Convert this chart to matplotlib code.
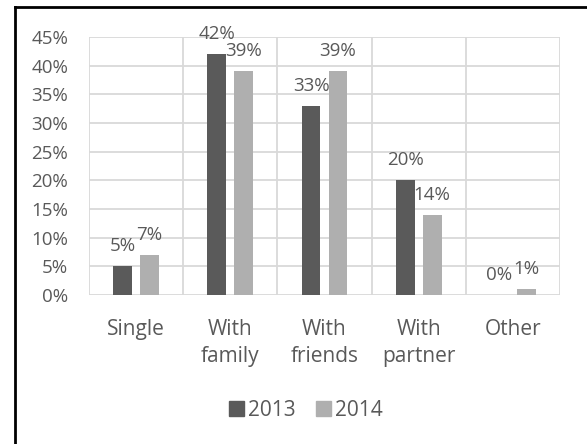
import matplotlib.pyplot as plt
from matplotlib.lines import Line2D
import numpy as np

# data
categories = ['Single', 'With\nfamily', 'With\nfriends', 'With\npartner', 'Other']
y2013 = [5, 42, 33, 20, 0]
y2014 = [7, 39, 39, 14, 1]
yticks = [0, 5, 10, 15, 20, 25, 30, 35, 40, 45]

dark = '#5a5a5a'
light = '#afafaf'
text_col = '#595959'
plt.rcParams['font.family'] = ['Open Sans', 'DejaVu Sans']

W, H = 587, 444
fig = plt.figure(figsize=(W / 100, H / 100), dpi=100)
ax = fig.add_axes([89 / W, 1 - 295 / H, (560 - 89) / W, (295 - 37) / H])

x = np.arange(len(categories))
bw = 0.2
off = 0.143
b1 = ax.bar(x - off, y2013, bw, color=dark, zorder=3)
b2 = ax.bar(x + off, y2014, bw, color=light, zorder=3)

for bars, vals in ((b1, y2013), (b2, y2014)):
    for b, v in zip(bars, vals):
        ax.annotate(f'{v}%', (b.get_x() + b.get_width() / 2, v),
                    xytext=(0, 8), textcoords='offset points',
                    ha='center', va='bottom', fontsize=13.5, color=text_col)

ax.set_xlim(-0.5, len(categories) - 0.5)
ax.set_ylim(0, 45)
ax.set_yticks(yticks)
ax.set_yticklabels([f'{t}%' for t in yticks], fontsize=13.5, color=text_col)
ax.set_xticks(x)
ax.set_xticklabels(categories, fontsize=15, color=text_col, linespacing=1.4)
ax.tick_params(length=0, axis='y', pad=15)
ax.tick_params(length=0, axis='x', pad=17)

# horizontal grid + vertical separators between categories
ax.yaxis.grid(True, color='#d9d9d9', lw=1.3, zorder=0)
for b in np.arange(-0.5, len(categories), 1.0):
    ax.axvline(b, color='#d9d9d9', lw=1.3, zorder=0)
for s in ax.spines.values():
    s.set_visible(False)

handles = [plt.Rectangle((0, 0), 1, 1, color=dark), plt.Rectangle((0, 0), 1, 1, color=light)]
fig.legend(handles, ['2013', '2014'], loc='center', bbox_to_anchor=(306 / W, 1 - 410 / H),
           ncol=2, frameon=False, fontsize=15, labelcolor=text_col,
           handlelength=0.7, handleheight=0.7, handletextpad=0.2, columnspacing=1.0)

# chart border (top and left edges visible)
fig.add_artist(Line2D([15 / W, 1], [1 - 7 / H, 1 - 7 / H], color='black', lw=2, transform=fig.transFigure))
fig.add_artist(Line2D([15 / W, 15 / W], [0, 1 - 7 / H], color='black', lw=2, transform=fig.transFigure))

fig.savefig('out.png', dpi=100)
